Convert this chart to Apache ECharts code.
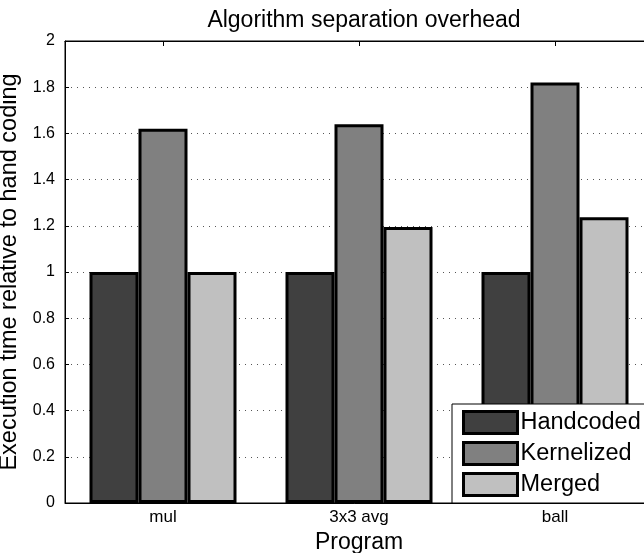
<!DOCTYPE html>
<html>
<head>
<meta charset="utf-8">
<script src="https://cdn.jsdelivr.net/npm/echarts@6/dist/echarts.min.js"></script>
<style>html,body{margin:0;padding:0;background:#fff;}#c{width:644px;height:553px;}</style>
</head>
<body>
<div id="c"></div>
<script>
const categories = ['mul', '3x3 avg', 'ball'];
const handcoded = [1.0, 1.0, 1.0];
const kernelized = [1.62, 1.64, 1.82];
const merged = [1.0, 1.195, 1.237];
const yTicks = [0, 0.2, 0.4, 0.6, 0.8, 1, 1.2, 1.4, 1.6, 1.8, 2];

const font = 'Liberation Sans, Arial, sans-serif';
const chart = echarts.init(document.getElementById('c'), null, {renderer: 'canvas'});
function bar(name, data, color) {
  return {
    name: name, type: 'bar', data: data,
    barGap: '0%', barCategoryGap: '25%',
    itemStyle: {color: color, borderColor: '#000', borderWidth: 3},
    emphasis: {disabled: true}
  };
}
chart.setOption({
  animation: false,
  backgroundColor: '#fff',
  title: {
    text: 'Algorithm separation overhead',
    left: 359, textAlign: 'center', top: 4,
    textStyle: {fontFamily: font, fontSize: 23, fontWeight: 'normal', color: '#000'}
  },
  grid: {left: 65, right: -9, top: 41, bottom: 50, outerBoundsMode: 'none', containLabel: false,
    show: true, borderColor: '#000', borderWidth: 1, backgroundColor: 'transparent'},
  legend: {
    data: ['Handcoded', 'Kernelized', 'Merged'],
    orient: 'vertical', left: 452, top: 404,
    padding: [6, 10, 6, 10],
    itemWidth: 54, itemHeight: 22, itemGap: 6,
    backgroundColor: '#fff', borderColor: '#000', borderWidth: 1,
    icon: 'rect',
    itemStyle: {borderColor: '#000', borderWidth: 3},
    textStyle: {fontFamily: font, fontSize: 23.5, lineHeight: 22, color: '#000', padding: [0, 0, 0, -2]}
  },
  xAxis: [{
    type: 'category', data: categories,
    name: 'Program', nameLocation: 'middle', nameGap: 25,
    nameTextStyle: {fontFamily: font, fontSize: 23, color: '#000'},
    axisLine: {lineStyle: {color: '#000', width: 1}},
    axisTick: {show: true, inside: true, alignWithLabel: true, length: 5, lineStyle: {color: '#000'}},
    axisLabel: {fontFamily: font, fontSize: 17, color: '#000', margin: 6},
    splitLine: {show: false}
  }, {
    type: 'category', data: categories, position: 'top',
    axisLine: {lineStyle: {color: '#000', width: 1}},
    axisTick: {show: true, inside: true, alignWithLabel: true, length: 5, lineStyle: {color: '#000'}},
    axisLabel: {show: false}
  }],
  yAxis: {
    type: 'value', min: 0, max: 2, interval: 0.2,
    name: 'Execution time relative to hand coding', nameLocation: 'middle', nameGap: 33,
    nameTextStyle: {fontFamily: font, fontSize: 23.5, color: '#000'},
    axisLine: {show: true, lineStyle: {color: '#000', width: 1}},
    axisTick: {show: true, inside: true, length: 4, lineStyle: {color: '#000'}},
    axisLabel: {fontFamily: font, fontSize: 16, color: '#000', margin: 10,
      formatter: function (v) { const t = yTicks.find(x => Math.abs(x - v) < 1e-9); return t === undefined ? '' : String(t); }},
    splitLine: {show: true, lineStyle: {color: '#555', type: [1, 5], width: 1}}
  },
  series: [
    bar('Handcoded', handcoded, '#404040'),
    bar('Kernelized', kernelized, '#808080'),
    bar('Merged', merged, '#c0c0c0')
  ]
});
</script>
</body>
</html>
